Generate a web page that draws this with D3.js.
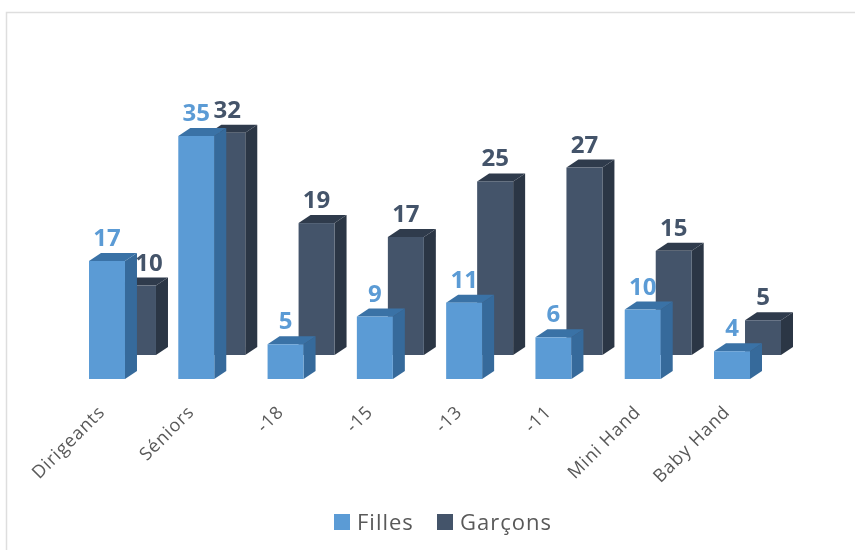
<!DOCTYPE html>
<html>
<head>
<meta charset="utf-8">
<script src="https://cdn.jsdelivr.net/npm/d3@7"></script>
<style>
html, body { margin: 0; padding: 0; background: #fff; }
svg { display: block; filter: blur(0.5px); }
</style>
</head>
<body>
<script>
const categories = ["Dirigeants", "Séniors", "-18", "-15", "-13", "-11", "Mini Hand", "Baby Hand"]
const filles = [17, 35, 5, 9, 11, 6, 10, 4]
const garcons = [10, 32, 19, 17, 25, 27, 15, 5]

const width = 855
const height = 550
const baseline = 379
const depth = [12, 8]
const backOffset = [31, -24]
const font = "'Open Sans', sans-serif"

const svg = d3
    .select("body")
    .append("svg")
    .attr("viewBox", [0, 0, width, height])
    .attr("width", width)
    .attr("height", height)

svg.append("path")
    .attr("d", `M6.5,${height}V12.5H${width}`)
    .attr("fill", "none")
    .attr("stroke", "#dedede")
    .attr("stroke-width", 1.5)

const x = d3.scaleBand().domain(categories).range([89, 750]).paddingInner(0.597).paddingOuter(0).align(0)
const y = d3.scaleLinear().domain([0, 35]).range([baseline, 136])

const series = [
    { name: "Garçons", values: garcons, front: "#44546a", side: "#2b3645", top: "#2f3b4c", dx: backOffset[0], dy: backOffset[1] },
    { name: "Filles", values: filles, front: "#5b9bd5", side: "#366a9b", top: "#3a72a6", dx: 0, dy: 0 },
]

// the label of the short Garçons bar is moved aside in the original
const labelShift = (s, c) => (s.name === "Garçons" && c === "Dirigeants" ? 11 : 0)

series.forEach((s) => {
    const g = svg.append("g").attr("transform", `translate(${s.dx},${s.dy})`)
    const bars = g.selectAll("g").data(categories).join("g")
    const w = x.bandwidth()

    bars.append("path")
        .attr("fill", s.side)
        .attr("d", (c, i) => {
            const x1 = x(c) + w
            const t = y(s.values[i])
            return `M${x1},${t}l${depth[0]},${-depth[1]}V${baseline - depth[1]}l${-depth[0]},${depth[1]}Z`
        })
    bars.append("path")
        .attr("fill", s.top)
        .attr("d", (c, i) => {
            const t = y(s.values[i])
            return `M${x(c)},${t}l${depth[0]},${-depth[1]}h${w}l${-depth[0]},${depth[1]}Z`
        })
    bars.append("rect")
        .attr("fill", s.front)
        .attr("x", (c) => x(c))
        .attr("y", (c, i) => y(s.values[i]))
        .attr("width", w)
        .attr("height", (c, i) => baseline - y(s.values[i]))
})

// labels go on top of every bar
series.forEach((s) => {
    svg.append("g")
        .attr("transform", `translate(${s.dx},${s.dy})`)
        .selectAll("text")
        .data(categories)
        .join("text")
        .attr("x", (c) => x(c) + x.bandwidth() / 2 + labelShift(s, c))
        .attr("y", (c, i) => y(s.values[i]) - 15)
        .attr("text-anchor", "middle")
        .attr("font-family", font)
        .attr("font-size", 24)
        .attr("font-weight", 700)
        .attr("fill", s.name === "Filles" ? "#5b9bd5" : "#44546a")
        .text((c, i) => s.values[i])
})

const axis = svg
    .append("g")
    .attr("transform", `translate(0,${baseline})`)
    .call(d3.axisBottom(x).tickSize(0))
axis.select(".domain").remove()
axis.selectAll("text")
    .attr("y", 0)
    .attr("dy", 0)
    .attr("font-family", font)
    .attr("font-size", 18)
    .attr("letter-spacing", 0.9)
    .attr("fill", "#595959")
    .attr("text-anchor", "end")
    .attr("transform", "translate(-1,34) rotate(-45)")

const legend = svg.append("g").attr("font-family", font).attr("font-size", 22).attr("letter-spacing", 1).attr("fill", "#595959")
const legendX = d3.scaleOrdinal().domain(["Filles", "Garçons"]).range([334, 437])
series.forEach((s) => {
    legend.append("rect")
        .attr("x", legendX(s.name))
        .attr("y", 514)
        .attr("width", 16)
        .attr("height", 16)
        .attr("fill", s.front)
    legend.append("text")
        .attr("x", legendX(s.name) + 23)
        .attr("y", 530)
        .text(s.name)
})
</script>
</body>
</html>
